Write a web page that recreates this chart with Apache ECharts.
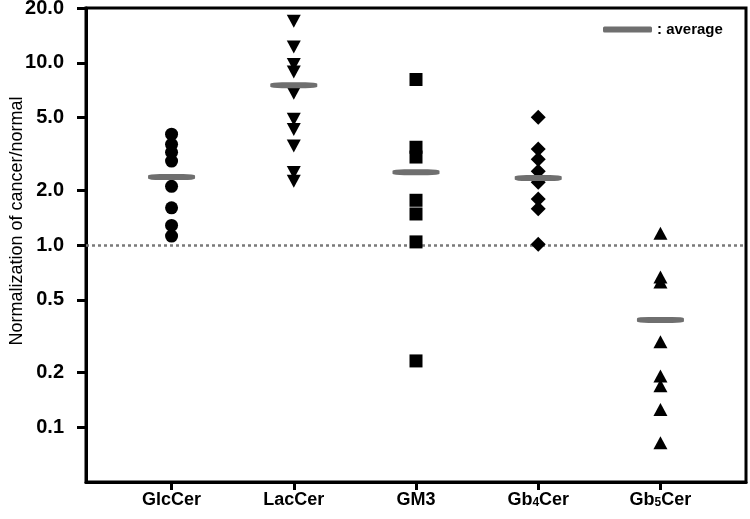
<!DOCTYPE html>
<html>
<head>
<meta charset="utf-8">
<script src="https://cdn.jsdelivr.net/npm/echarts@6/dist/echarts.min.js"></script>
<style>html,body{margin:0;padding:0;background:#fff}#c{width:750px;height:519px}</style>
</head>
<body>
<div id="c"></div>
<script>
const categories = ['GlcCer', 'LacCer', 'GM3', 'Gb4Cer', 'Gb5Cer'];
const categoryLabels = ['GlcCer', 'LacCer', 'GM3', 'Gb{sub|4}Cer', 'Gb{sub|5}Cer'];
const glcCer = [4.06, 3.57, 3.23, 2.89, 2.10, 1.60, 1.28, 1.12];
const lacCer = [16.9, 12.2, 9.8, 8.9, 6.8, 4.9, 4.3, 3.5, 2.5, 2.24];
const gm3 = [8.1, 3.44, 3.04, 1.76, 1.48, 1.04, 0.231];
const gb4Cer = [5.03, 3.36, 2.96, 2.54, 2.21, 1.79, 1.58, 1.01];
const gb5Cer = [1.16, 0.668, 0.627, 0.294, 0.191, 0.169, 0.125, 0.082];
const averages = [2.36, 7.53, 2.51, 2.33, 0.388];
const yTicks = [0.1, 0.2, 0.5, 1, 2, 5, 10, 20];
const referenceValue = 1;

const groups = [
  {name: 'GlcCer', values: glcCer, symbol: 'circle', size: 13, rotate: 0},
  {name: 'LacCer', values: lacCer, symbol: 'triangle', size: [14, 13], rotate: 180},
  {name: 'GM3', values: gm3, symbol: 'rect', size: 13, rotate: 0},
  {name: 'Gb4Cer', values: gb4Cer, symbol: 'diamond', size: [15, 15], rotate: 0},
  {name: 'Gb5Cer', values: gb5Cer, symbol: 'triangle', size: [14, 13], rotate: 0}
];

const FONT = 'Liberation Sans, Arial, sans-serif';

const series = groups.map((g, i) => ({
  name: g.name,
  type: 'scatter',
  symbol: g.symbol,
  symbolSize: g.size,
  symbolRotate: g.rotate,
  itemStyle: {color: '#000', opacity: 1},
  data: g.values.map(v => [i, v]),
  z: 2
}));

series.push({
  name: ': average',
  type: 'scatter',
  symbol: 'roundRect',
  symbolSize: [47, 6],
  itemStyle: {color: '#6f6f6f', opacity: 1},
  data: averages.map((v, i) => [i, v]),
  z: 3,
  markLine: {
    silent: true,
    symbol: 'none',
    label: {show: false},
    lineStyle: {type: [3, 3], color: '#7a7a7a', width: 2.5},
    data: [{yAxis: referenceValue}],
    z: 1
  }
});

const chart = echarts.init(document.getElementById('c'), null, {renderer: 'canvas'});
chart.setOption({
  animation: false,
  backgroundColor: '#fff',
  textStyle: {fontFamily: FONT},
  grid: {left: 86, right: 4, top: 8, bottom: 37, show: true, borderColor: '#000', borderWidth: 3, containLabel: false, outerBoundsMode: 'none'},
  legend: {
    data: [{name: ': average', icon: 'roundRect'}],
    left: 603, top: 22, padding: 0,
    itemWidth: 49, itemHeight: 6,
    textStyle: {fontSize: 15, fontWeight: 'bold', color: '#000', fontFamily: FONT}
  },
  xAxis: {
    type: 'value',
    min: -0.7, max: 4.7,
    splitLine: {show: false},
    axisLine: {show: true, onZero: false, lineStyle: {color: '#000', width: 3}},
    axisTick: {show: true, customValues: [0, 1, 2, 3, 4], length: 8, lineStyle: {color: '#000', width: 3}},
    axisLabel: {
      customValues: [0, 1, 2, 3, 4],
      margin: 9,
      color: '#000', fontSize: 18, fontWeight: 'bold',
      fontFamily: FONT,
      formatter: v => categoryLabels[Math.round(v)],
      rich: {
        sub: {fontSize: 12, fontWeight: 'bold', color: '#000', verticalAlign: 'bottom', padding: [5, 0, 0, 0], fontFamily: FONT}
      }
    }
  },
  yAxis: {
    type: 'log',
    logBase: 10,
    min: 0.05, max: 20,
    name: 'Normalization of cancer/normal',
    nameLocation: 'middle',
    nameGap: 60,
    nameMoveOverlap: false,
    nameTextStyle: {fontSize: 18, color: '#000', fontFamily: FONT, padding: [0, 0, 0, 48]},
    splitLine: {show: false},
    axisLine: {show: true, onZero: false, lineStyle: {color: '#000', width: 3}},
    axisTick: {show: true, customValues: yTicks, length: 9, lineStyle: {color: '#000', width: 3}},
    axisLabel: {
      customValues: yTicks,
      margin: 22,
      color: '#000', fontSize: 20, fontWeight: 'bold',
      fontFamily: FONT,
      formatter: v => Number(v).toFixed(1)
    }
  },
  series: series
});
</script>
</body>
</html>
